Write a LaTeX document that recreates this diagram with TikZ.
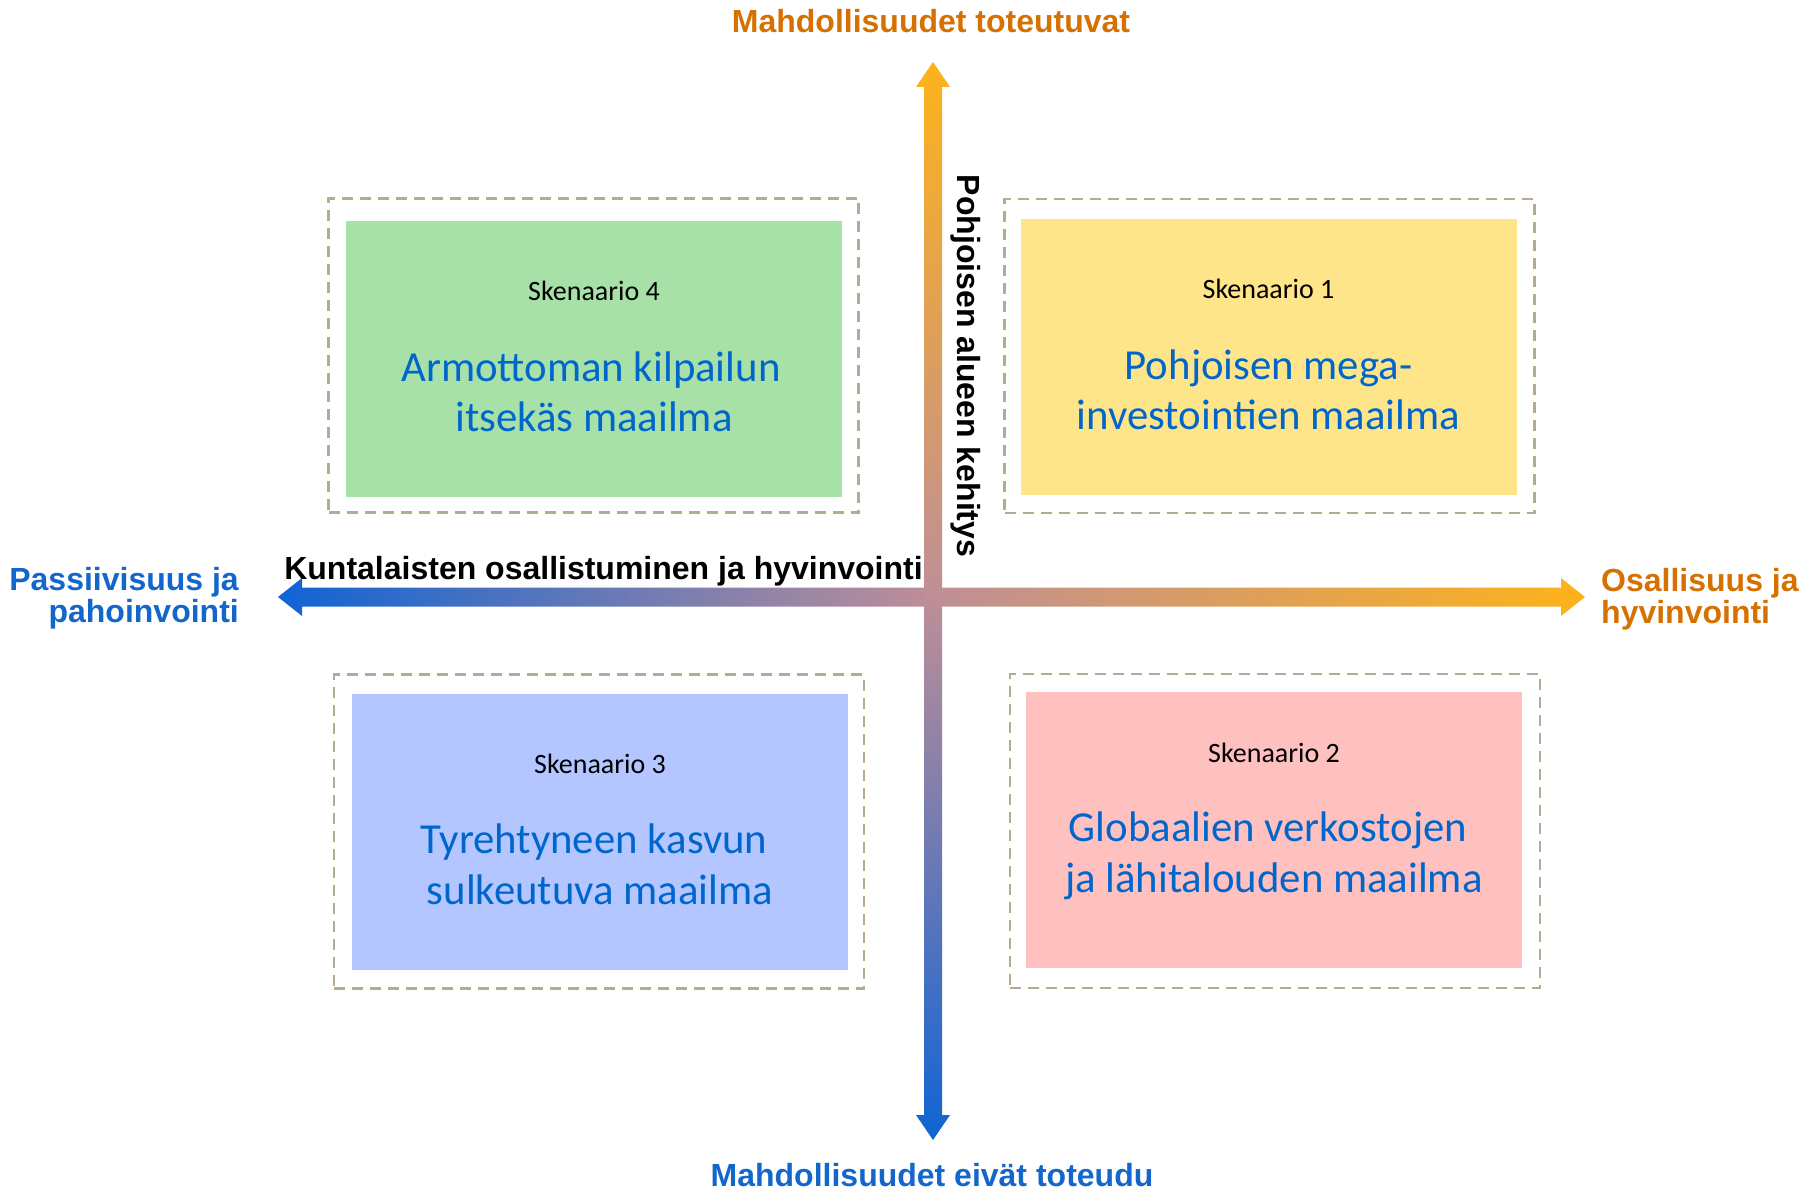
\documentclass[tikz,border=0pt]{standalone}
\usepackage{fontspec}
\setmainfont{Liberation Sans}
\newfontfamily\calibri{Carlito}
\usetikzlibrary{calc}
\definecolor{axblue}{RGB}{15,100,212}
\definecolor{axorange}{RGB}{254,178,26}
\definecolor{axmid}{RGB}{190,142,152}
\definecolor{lblorange}{RGB}{214,112,0}
\definecolor{lblblue}{RGB}{18,102,204}
\definecolor{ttlblue}{RGB}{0,102,204}
\definecolor{dashc}{RGB}{184,170,146}
\definecolor{fgreen}{RGB}{168,225,168}
\definecolor{fyellow}{RGB}{255,229,138}
\definecolor{fblue}{RGB}{179,198,255}
\definecolor{fpink}{RGB}{255,192,192}
\tikzset{
  outerbox/.style={draw=dashc, line width=2.8pt, dash pattern=on 11pt off 7pt,
    minimum width=530pt, minimum height=314pt, inner sep=0pt},
  fillbox/.style={fill=#1, draw=none, minimum width=496pt, minimum height=276pt, inner sep=0pt},
  lbl/.style={font=\bfseries\fontsize{32}{35}\selectfont, inner sep=0pt},
  sken/.style={font=\calibri\fontsize{28}{33}\selectfont, text=black, inner sep=0pt, anchor=base},
  ttl/.style={font=\calibri\fontsize{42.8}{50}\selectfont, text=ttlblue, inner sep=0pt, anchor=base}
}
\begin{document}
\begin{tikzpicture}[x=1pt,y=-1pt]
\useasboundingbox (0,0) rectangle (1816,1190);

% scenario boxes
\node[outerbox] (o4) at (593.5,355.5) {};
\node[fillbox=fgreen] (f4) at (594,359) {};
\node[outerbox] (o1) at (1269.5,356) {};
\node[fillbox=fyellow] (f1) at (1268.5,357) {};
\node[outerbox] (o3) at (599,831.5) {};
\node[fillbox=fblue] (f3) at (600,832) {};
\node[outerbox] (o2) at (1275,831) {};
\node[fillbox=fpink] (f2) at (1274,830) {};

\node[sken] (s4) at ($(f4.north)+(0,80)$) {Skenaario 4};
\node[ttl] (t4a) at ($(f4.north)+(-3,161)$) {Armottoman kilpailun};
\node[ttl] (t4b) at ($(f4.north)+(0,211)$) {itsekäs maailma};

\node[sken] (s1) at ($(f1.north)+(0,80)$) {Skenaario 1};
\node[ttl] (t1a) at ($(f1.north)+(0,161)$) {Pohjoisen mega-};
\node[ttl] (t1b) at ($(f1.north)+(0,211)$) {investointien maailma};

\node[sken] (s3) at ($(f3.north)+(0,80)$) {Skenaario 3};
\node[ttl] (t3a) at ($(f3.north)+(-6,160)$) {Tyrehtyneen kasvun};
\node[ttl] (t3b) at ($(f3.north)+(0,211)$) {sulkeutuva maailma};

\node[sken] (s2) at ($(f2.north)+(0,71)$) {Skenaario 2};
\node[ttl] (t2a) at ($(f2.north)+(-6,150)$) {Globaalien verkostojen};
\node[ttl] (t2b) at ($(f2.north)+(0,201)$) {ja lähitalouden maailma};

% axes
\coordinate (hl) at (278,597);
\coordinate (hr) at (1585,597);
\coordinate (vt) at (933,62);
\coordinate (vb) at (933,1140);

\shade[left color=axblue, right color=axorange, middle color=axmid]
  (hl) -- ($(hl)+(24,-19)$) -- ($(hl)+(24,-9.5)$) -- ($(hr)+(-24,-9.5)$) -- ($(hr)+(-24,-19)$)
  -- (hr) -- ($(hr)+(-24,19)$) -- ($(hr)+(-24,9.5)$) -- ($(hl)+(24,9.5)$) -- ($(hl)+(24,19)$) -- cycle;
\shade[top color=axorange, bottom color=axblue, middle color=axmid]
  (vt) -- ($(vt)+(17,25)$) -- ($(vt)+(9,25)$) -- ($(vb)+(9,-25)$) -- ($(vb)+(17,-25)$)
  -- (vb) -- ($(vb)+(-17,-25)$) -- ($(vb)+(-9,-25)$) -- ($(vt)+(-9,25)$) -- ($(vt)+(-17,25)$) -- cycle;

% axis labels
\node[lbl, text=lblorange, anchor=base] (top) at (931,33) {Mahdollisuudet toteutuvat};
\node[lbl, text=lblblue, anchor=base] (bot) at (932,1186) {Mahdollisuudet eivät toteudu};
\node[lbl, text=lblblue, anchor=base east] (l1) at (239,590) {Passiivisuus ja};
\node[lbl, text=lblblue, anchor=base east] (l2) at (239,622) {pahoinvointi};
\node[lbl, text=lblorange, anchor=base west] (r1) at (1601,591) {Osallisuus ja};
\node[lbl, text=lblorange, anchor=base west] (r2) at (1601,623) {hyvinvointi};
\node[lbl, text=black, anchor=base] (hlab) at (603.5,579) {Kuntalaisten osallistuminen ja hyvinvointi};
\node[lbl, text=black, rotate=-90, anchor=base] (vlab) at (957,366) {Pohjoisen alueen kehitys};
\end{tikzpicture}
\end{document}
